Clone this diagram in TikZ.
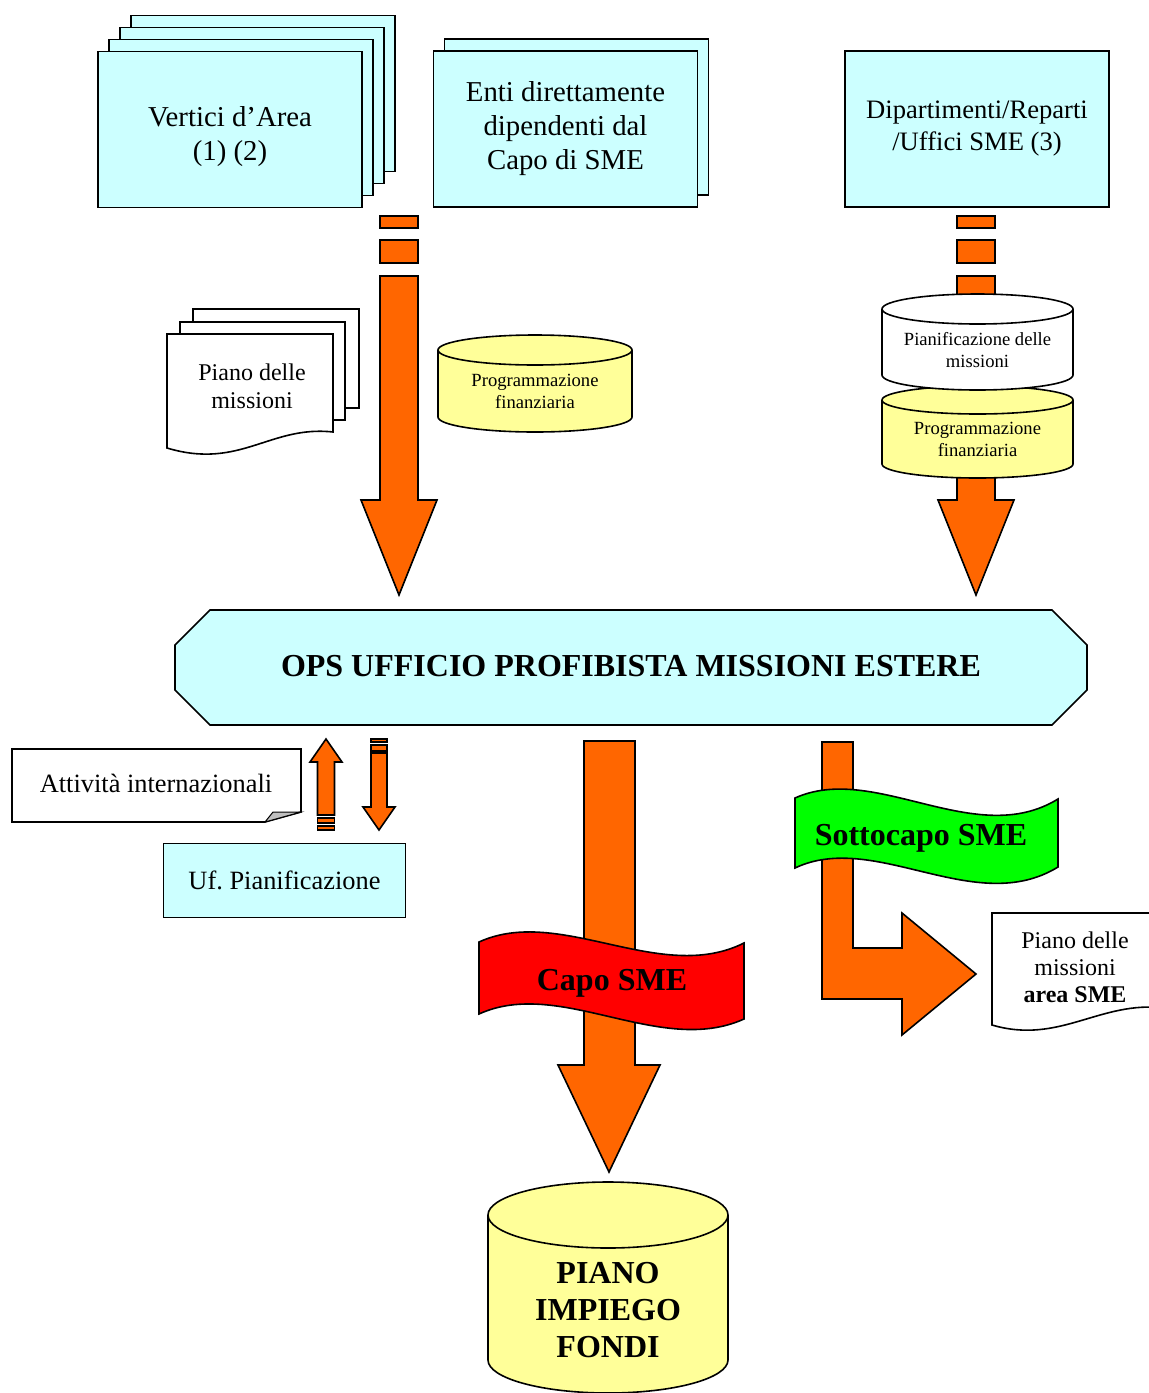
\documentclass[tikz,border=0pt]{standalone}
\usepackage{fontspec}
\setmainfont{Liberation Serif}
\usetikzlibrary{calc}
\definecolor{cLightCyan}{HTML}{CCFFFF}
\definecolor{cOrange}{HTML}{FF6600}
\definecolor{cPaleYellow}{HTML}{FFFF99}
\definecolor{cGreen}{HTML}{00FF00}
\definecolor{cRed}{HTML}{FF0000}

\begin{document}
\begin{tikzpicture}[x=0.5pt, y=-0.5pt, line width=0.8pt, line join=miter,
    areabox/.style={rectangle, draw, fill=cLightCyan, inner sep=2pt, align=center, minimum width=132pt, minimum height=78pt, font=\fontsize{14.4}{17}\selectfont},
    blockarrow/.style={draw, fill=cOrange},
    sheet/.style={draw, fill=white},
    cylfill/.style={draw, fill=cPaleYellow},
    smalltext/.style={align=center, font=\fontsize{9.3}{11}\selectfont},
    doctext/.style={align=center, font=\fontsize{12}{13.8}\selectfont},
    bigtext/.style={align=center, font=\fontsize{16}{18.5}\selectfont\bfseries}
]
\useasboundingbox (0,0) rectangle (1149,1393);
\clip (0,0) rectangle (1149,1393);

% top row of offices
\foreach \k in {3,2,1}
  \node[areabox] at (230+11*\k, 129.5-12*\k) {};
\node[areabox] (vertici) at (230,129.5) {};
\node[align=center, font=\fontsize{14.4}{17}\selectfont] (verticiText) at (230,137) {Vertici d’Area\\(1) (2)};
\node[areabox] at (576.5,117) {};
\node[areabox] (enti) at (565.5,129) {Enti direttamente\\dipendenti dal\\Capo di SME};
\node[areabox, font=\fontsize{13.3}{16}\selectfont] (dipart) at (977,129) {Dipartimenti/Reparti\\/Uffici SME (3)};

% broken arrows down to OPS
\foreach \cx in {399,976} {
  \filldraw[blockarrow] (\cx-19,216) rectangle (\cx+19,228);
  \filldraw[blockarrow] (\cx-19,240) rectangle (\cx+19,263);
  \filldraw[blockarrow] (\cx-19,276) -- (\cx+19,276) -- (\cx+19,500) -- (\cx+38,500)
    -- (\cx,595) -- (\cx-38,500) -- (\cx-19,500) -- cycle;
}

% piano delle missioni (stack of sheets)
\filldraw[sheet] (193,309) rectangle (359,408);
\filldraw[sheet] (180,322) rectangle (345,420);
\filldraw[sheet] (167,334) -- (333,334) -- (333,432) .. controls (270,425) and (240,470) .. (167,448) -- cycle;
\node[doctext] (pianoL) at (252,386) {Piano delle\\missioni};

% programmazione finanziaria (left)
\filldraw[cylfill] (438,350) -- (438,417) arc[start angle=180, end angle=360, x radius=48.5pt, y radius=7.5pt]
  -- (632,350) arc[start angle=0, end angle=180, x radius=48.5pt, y radius=7.5pt] -- cycle;
\draw (438,350) arc[start angle=180, end angle=360, x radius=48.5pt, y radius=7.5pt];
\node[smalltext] (progL) at (535,391) {Programmazione\\finanziaria};

% right column: two stacked cylinders
\filldraw[cylfill] (882,400) -- (882,464) arc[start angle=180, end angle=360, x radius=47.75pt, y radius=7pt]
  -- (1073,400) arc[start angle=0, end angle=180, x radius=47.75pt, y radius=7pt] -- cycle;
\draw (882,400) arc[start angle=180, end angle=360, x radius=47.75pt, y radius=7pt];
\node[smalltext] (progR) at (977.5,439.5) {Programmazione\\finanziaria};
\filldraw[sheet] (882,309) -- (882,375) arc[start angle=180, end angle=360, x radius=47.75pt, y radius=7.5pt]
  -- (1073,309) arc[start angle=0, end angle=180, x radius=47.75pt, y radius=7.5pt] -- cycle;
\draw (882,309) arc[start angle=180, end angle=360, x radius=47.75pt, y radius=7.5pt];
\node[smalltext] (pianR) at (977.5,350) {Pianificazione delle\\missioni};

% OPS
\filldraw[fill=cLightCyan] (175,645) -- (210,610) -- (1052,610) -- (1087,645) -- (1087,690)
  -- (1052,725) -- (210,725) -- (175,690) -- cycle;
\node[bigtext] (ops) at (631,666) {OPS UFFICIO PROFIBISTA MISSIONI ESTERE};

% attivita internazionali / uf. pianificazione
\filldraw[sheet] (12,749) -- (301,749) -- (301,812) -- (265,822) -- (12,822) -- cycle;
\filldraw[fill=black!25, line width=0.5pt] (265,822) -- (273,812) -- (301,812) -- cycle;
\node[align=center, font=\fontsize{13.2}{15}\selectfont] (attivita) at (156,783) {Attività internazionali};
\node[areabox, minimum width=121pt, minimum height=37pt, font=\fontsize{13.2}{15}\selectfont] (ufpian) at (284.5,880.5) {Uf.\ Pianificazione};

\filldraw[blockarrow] (326,739) -- (342,762) -- (334.5,762) -- (334.5,815) -- (317.5,815)
  -- (317.5,762) -- (310,762) -- cycle;
\filldraw[blockarrow] (317.5,818) rectangle (334.5,823);
\filldraw[blockarrow] (317.5,826) rectangle (334.5,830);
\filldraw[blockarrow] (371,739) rectangle (387,742);
\filldraw[blockarrow] (371,745) rectangle (387,751);
\filldraw[blockarrow] (371,753) -- (387,753) -- (387,807) -- (395,807) -- (379,830)
  -- (363,807) -- (371,807) -- cycle;

% Capo SME
\filldraw[blockarrow] (584,741) -- (635,741) -- (635,1065) -- (660,1065) -- (609,1172)
  -- (558,1065) -- (584,1065) -- cycle;
\filldraw[fill=cRed] (479,942) .. controls (560,905) and (660,985) .. (744,943) -- (744,1019)
  .. controls (660,1057) and (560,977) .. (479,1014) -- cycle;
\node[bigtext] (capo) at (612,983) {Capo SME};

% Sottocapo SME
\filldraw[blockarrow] (822,742) -- (853,742) -- (853,948) -- (902,948) -- (902,913) -- (976,974)
  -- (902,1035) -- (902,999) -- (822,999) -- cycle;
\filldraw[fill=cGreen] (795,798) .. controls (875,762) and (975,850) .. (1058,799) -- (1058,867)
  .. controls (975,918) and (875,830) .. (795,868) -- cycle;
\node[bigtext] (sottocapo) at (921,838) {Sottocapo SME};

\filldraw[sheet] (992,913) -- (1165,913) -- (1165,1008) .. controls (1100,1000) and (1060,1045) .. (992,1025) -- cycle;
\node[align=center, font=\fontsize{12}{13.5}\selectfont] (pianoArea) at (1075,967) {Piano delle\\missioni\\\textbf{area SME}};

% piano impiego fondi
\filldraw[cylfill] (488,1215) -- (488,1360) arc[start angle=180, end angle=360, x radius=60pt, y radius=16.5pt]
  -- (728,1215) arc[start angle=0, end angle=180, x radius=60pt, y radius=16.5pt] -- cycle;
\draw (488,1215) arc[start angle=180, end angle=360, x radius=60pt, y radius=16.5pt];
\node[bigtext] (pif) at (608,1310) {PIANO\\IMPIEGO\\FONDI};

\end{tikzpicture}
\end{document}
